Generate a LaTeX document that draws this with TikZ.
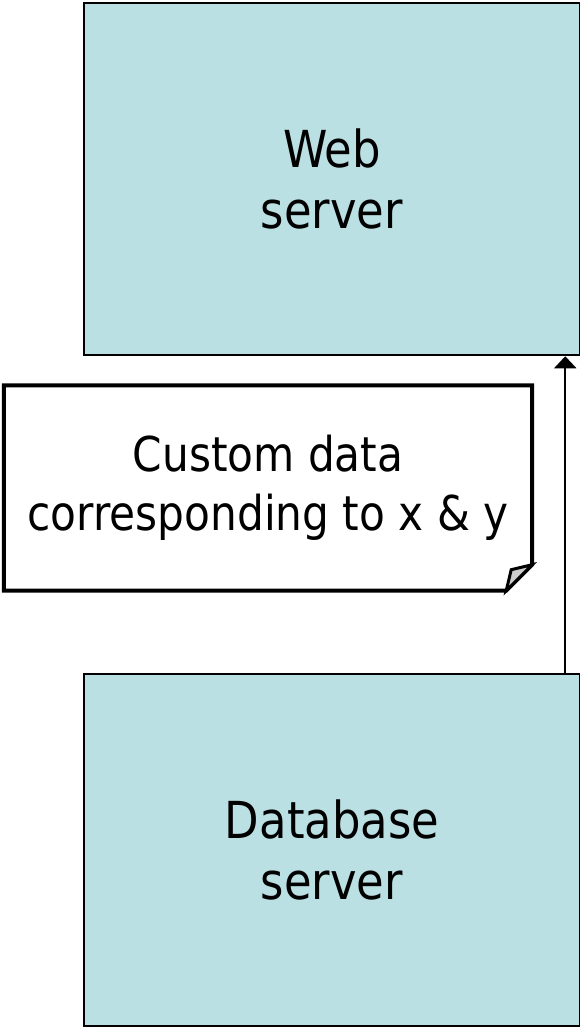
\documentclass[tikz,border=0pt]{standalone}
\usepackage{fontspec}
\setmainfont{DejaVu Sans}[FakeStretch=0.88]
\usetikzlibrary{arrows.meta, positioning}
\definecolor{serverblue}{RGB}{187,224,227}
\definecolor{foldgrey}{RGB}{204,204,204}
\tikzset{
	server/.style={rectangle,draw,line width=2.5pt,fill=serverblue,minimum width=496pt,minimum height=352pt,align=center,font=\fontsize{51}{61}\selectfont},
	notebox/.style={minimum width=528pt,minimum height=205pt,align=center,inner sep=0pt,font=\fontsize{48}{59}\selectfont}
}

\begin{document}
\begin{tikzpicture}[x=1pt,y=-1pt]
	\useasboundingbox (0,0) rectangle (580,1027);
	\node[server] at (332,179) (web) {Web\\server};
	\node[server] at (332,850) (db) {Database\\server};
	\node[notebox] at (268,488) (note) {Custom data\\corresponding to x \& y};
	\draw[line width=4pt,line join=miter] (note.north west)--(note.north east)--([yshift=26pt]note.south east)--([xshift=-26pt]note.south east)--(note.south west)--cycle;
	\draw[line width=3pt,fill=foldgrey] ([yshift=26pt]note.south east)--([xshift=-21pt,yshift=21pt]note.south east)--([xshift=-26pt]note.south east)--cycle;
	\draw[-{Triangle[length=12pt,width=22pt]},line width=2pt] ([xshift=-16pt]db.north east)--([xshift=-16pt]web.south east);
\end{tikzpicture}
\end{document}
